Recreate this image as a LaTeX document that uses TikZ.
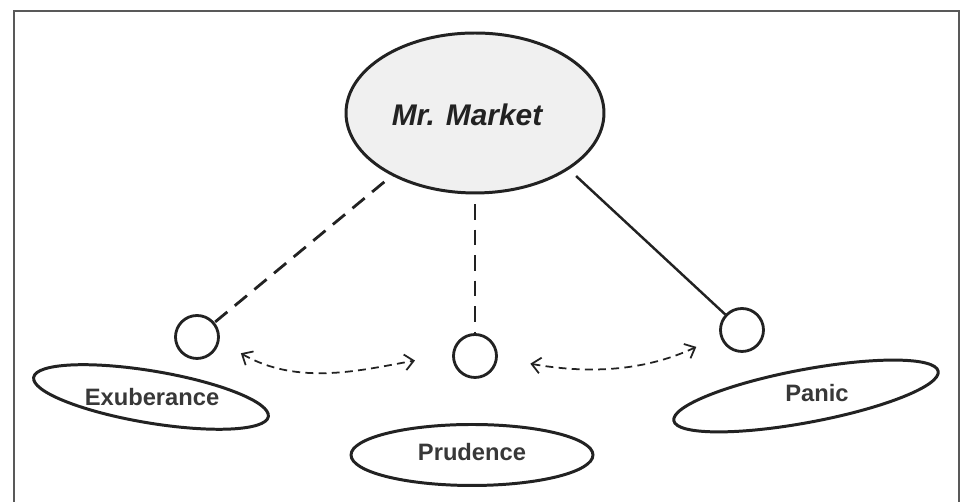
\documentclass[tikz,border=0pt]{standalone}
\usepackage{fontspec}
\setmainfont{Liberation Sans}
\usetikzlibrary{shapes.geometric,arrows.meta}
\definecolor{inkgray}{HTML}{222222}
\begin{document}
\begin{tikzpicture}[x=0.02cm,y=0.02cm,
	oval/.style={ellipse,draw=inkgray,line width=1.7pt,inner sep=0pt},
	ring/.style={circle,draw=inkgray,line width=1.6pt,minimum size=0.86cm,inner sep=0pt},
	tag/.style={font=\fontsize{13.5}{16}\selectfont\bfseries,text=inkgray!90},
	link/.style={draw=inkgray,line width=1.6pt,dash pattern=on 9pt off 5.5pt,shorten <=5.5pt},
	swap/.style={draw=inkgray,line width=1pt,dash pattern=on 4.5pt off 3pt,{Straight Barb[length=5pt,width=9pt]}-{Straight Barb[length=5pt,width=9pt]}}]
	\useasboundingbox (0,0) rectangle (965,502);
	\draw[gray!70!black,line width=1pt] (14,-5) -- (14,491) -- (959,491) -- (959,-5);
	\node[oval,fill=gray!12,minimum width=5.16cm,minimum height=3.2cm] (mkt) at (475,389) {};
	\node[font=\fontsize{17}{20}\selectfont\bfseries\itshape,text=inkgray] (mktl) at (467,387) {Mr. Market};
	\node[ring] (cl) at (197,165) {};
	\node[ring] (cm) at (475,146) {};
	\node[ring] (cr) at (742,172) {};
	\node[oval,minimum width=4.76cm,minimum height=1.04cm,rotate=-9.5] (exo) at (151,105) {};
	\node[tag] (exl) at (152,105) {Exuberance};
	\node[oval,minimum width=4.84cm,minimum height=1.22cm] (pro) at (472,47) {};
	\node[tag] (prl) at (472,50) {Prudence};
	\node[oval,minimum width=5.38cm,minimum height=1.06cm,rotate=10.6] (pao) at (806,106) {};
	\node[tag] (pal) at (817,109) {Panic};
	\draw[link] (mkt.217) -- (cl);
	\draw[link] (mkt.south) -- (cm);
	\draw[draw=inkgray,line width=1.4pt,shorten <=5.5pt] (mkt.-31) -- (cr);
	\draw[swap,shorten <=14pt,shorten >=21.5pt] (cl.-10) to[out=-30,in=190] (cm.175);
	\draw[swap,shorten <=18.8pt,shorten >=14.8pt] (cm.-5) to[out=-10,in=205] (cr.195);
\end{tikzpicture}
\end{document}
